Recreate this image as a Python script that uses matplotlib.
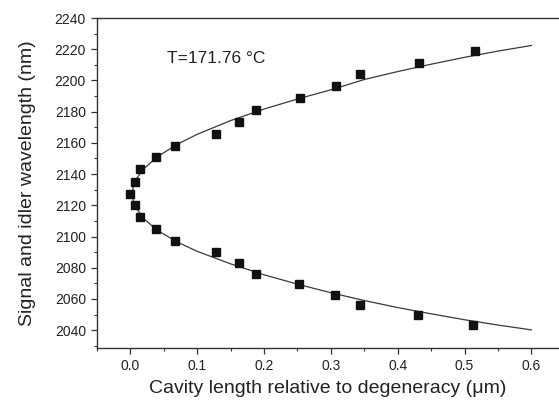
import matplotlib
matplotlib.use("Agg")
import matplotlib.pyplot as plt
from matplotlib.ticker import MultipleLocator

plt.rcParams['font.family'] = ['Liberation Sans', 'DejaVu Sans']

# measured points (cavity length offset in um, wavelength in nm)
sig_x = [0.0, 0.007, 0.0145, 0.038, 0.066, 0.128, 0.163, 0.188, 0.254, 0.307, 0.344, 0.432, 0.515]
sig_y = [2127.4, 2135.1, 2143.0, 2150.7, 2158.1, 2165.6, 2173.5, 2180.8, 2188.6, 2196.3, 2204.0, 2211.2, 2218.7]
idl_x = [0.007, 0.0145, 0.038, 0.066, 0.128, 0.163, 0.188, 0.253, 0.306, 0.344, 0.431, 0.513]
idl_y = [2120.0, 2112.3, 2104.6, 2097.3, 2090.3, 2083.2, 2076.2, 2069.6, 2062.4, 2056.0, 2049.6, 2043.2]

# calculated curve
curve_x = [0.003, 0.004, 0.006, 0.01, 0.02, 0.04, 0.07, 0.1, 0.15, 0.2,
           0.25, 0.3, 0.35, 0.4, 0.45, 0.5, 0.55, 0.6]
curve_up = [2127.5, 2131.4, 2134.2, 2137.7, 2143.4, 2151.0, 2159.1, 2165.5, 2174.3, 2181.7,
            2188.1, 2194.0, 2200.6, 2205.7, 2210.4, 2214.8, 2218.8, 2222.4]
curve_low = [2127.0, 2123.5, 2120.8, 2117.5, 2111.5, 2104.0, 2096.5, 2090.5, 2082.5, 2075.5,
             2069.5, 2064.0, 2059.0, 2054.5, 2050.5, 2046.7, 2043.3, 2040.2]

fig = plt.figure(figsize=(5.59, 4.01), dpi=100)
ax = fig.add_axes([97/559, 53/401, 462/559, 330/401])

cx = curve_x[::-1] + curve_x
cy = curve_up[::-1] + curve_low
ax.plot(cx, cy, color='#3a3a3a', lw=0.9)
ax.plot(sig_x + idl_x, sig_y + idl_y, 's', color='#111111', ms=5.5, mec='#111111')

ax.text(0.054, 2214.2, 'T=171.76 °C', fontsize=12.5, color='#222222', va='center')

ax.set_xlim(-0.05, 0.6413)
ax.set_ylim(2028.6, 2240)
ax.xaxis.set_minor_locator(MultipleLocator(0.05))
ax.yaxis.set_major_locator(MultipleLocator(20))
ax.yaxis.set_minor_locator(MultipleLocator(10))
ax.set_xticks([0.0, 0.1, 0.2, 0.3, 0.4, 0.5, 0.6])
ax.set_xticklabels(['0.0', '0.1', '0.2', '0.3', '0.4', '0.5', '0.6'])

ax.spines['right'].set_visible(False)
for s in ['left', 'bottom', 'top']:
    ax.spines[s].set_color('#333333')
    ax.spines[s].set_linewidth(1.0)

ax.tick_params(which='major', direction='out', length=4.5, width=0.9, colors='#333333',
               labelsize=10, labelcolor='#222222', top=False, right=False)
ax.tick_params(which='minor', direction='out', length=2.5, width=0.8, colors='#333333',
               top=False, right=False)

ax.set_xlabel('Cavity length relative to degeneracy (μm)', fontsize=14, color='#222222', labelpad=5)
ax.set_ylabel('Signal and idler wavelength (nm)', fontsize=14, color='#222222', labelpad=13)

fig.savefig('out.png', dpi=100)
